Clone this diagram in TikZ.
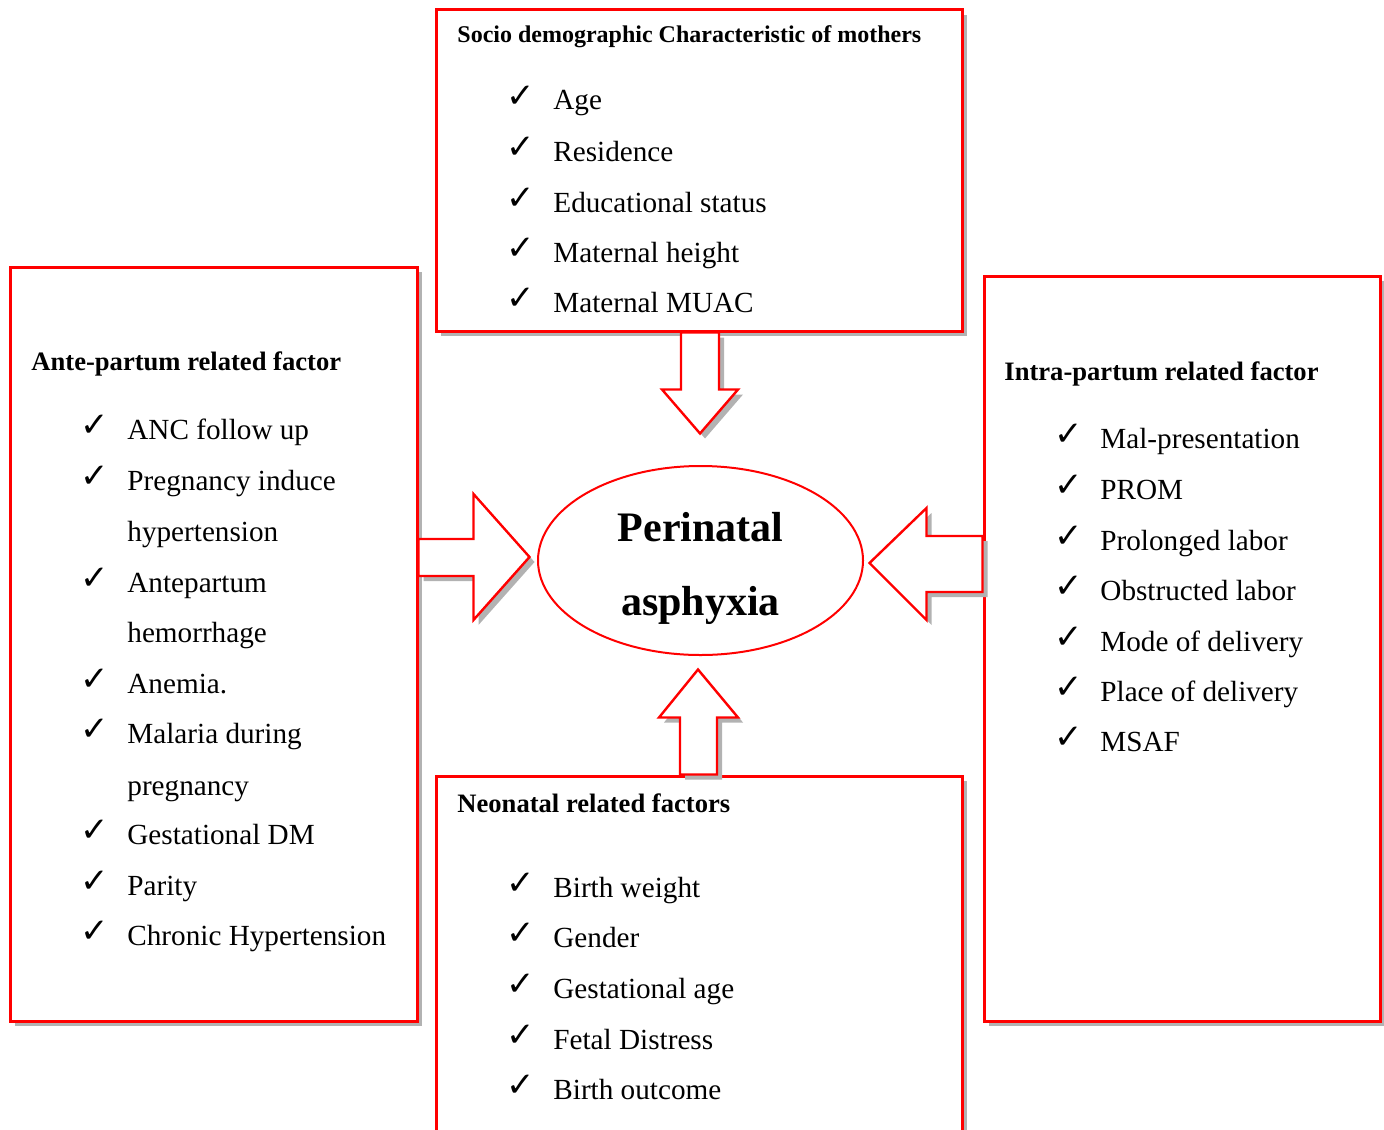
\documentclass[tikz,border=0pt]{standalone}
\usepackage{fontspec}
\setmainfont{Liberation Serif}
\newfontfamily\checkfont{DejaVu Sans}
\usetikzlibrary{shapes.geometric,shadows}
\definecolor{boxred}{rgb}{1, 0, 0}
\definecolor{shadowgray}{rgb}{0.70, 0.70, 0.70}
\tikzset{
  grayshadow/.style={drop shadow={shadow xshift=2.5pt, shadow yshift=-2.5pt, fill=shadowgray, opacity=1}},
  factorbox/.style={rectangle, draw=boxred, line width=1.5pt, fill=white, inner sep=0pt, grayshadow},
  blockarrow/.style={draw=boxred, line width=1.2pt, fill=white, line join=miter, grayshadow},
  headtext/.style={anchor=base west, inner sep=0pt, font=\fontsize{13.3}{16}\bfseries},
  itemtext/.style={anchor=base west, inner sep=0pt, font=\fontsize{14.6}{17}\selectfont},
  chk/.style={anchor=base west, inner sep=0pt, yshift=1.5pt, font=\checkfont\fontsize{17}{18}\selectfont}
}

\begin{document}
\begin{tikzpicture}[x=0.5pt, y=-0.5pt]
        \useasboundingbox (0, 0) rectangle (1384, 1129);
        \node[factorbox, minimum width=263pt, minimum height=160.5pt] (socio) at (699, 170.5) {};
        \node[factorbox, minimum width=203.5pt, minimum height=377pt] (ante) at (213.5, 644) {};
        \node[factorbox, minimum width=198pt, minimum height=372.5pt] (intra) at (1182, 648.5) {};
        \node[factorbox, minimum width=263pt, minimum height=192pt] (neo) at (699, 968) {};
        \node[ellipse, draw=boxred, line width=1pt, inner sep=0pt, minimum width=162.5pt, minimum height=94.5pt] (asph) at (700.5, 560.5) {};
        \node[align=center, inner sep=0pt, font=\fontsize{21}{37}\bfseries] (asphtext) at (700.5, 568.5) {Perinatal\\asphyxia};

        \draw[blockarrow] (socio.south) ++(-18, 0) -- ++(0, 57) -- ++(-19, 0) -- ++(38, 44) -- ++(38, -44) -- ++(-19, 0) -- ++(0, -57) -- cycle;
        \draw[blockarrow] (ante.east) ++(0, -105) -- ++(55, 0) -- ++(0, -45) -- ++(56, 63) -- ++(-56, 63) -- ++(0, -44) -- ++(-55, 0) -- cycle;
        \draw[blockarrow] (intra.west) ++(0, -112.5) -- ++(-56, 0) -- ++(0, -28) -- ++(-57, 55) -- ++(57, 57) -- ++(0, -28) -- ++(56, 0) -- cycle;
        \draw[blockarrow] (neo.north) ++(-19, 0) -- ++(0, -57) -- ++(-21, 0) -- ++(39, -48) -- ++(40, 48) -- ++(-21, 0) -- ++(0, 57) -- cycle;

        \node[headtext, font=\fontsize{12}{14}\bfseries] (sociohead) at (457, 43) {Socio demographic Characteristic of mothers};
        \node[chk] (sc1) at (506, 110) {✓};
        \node[itemtext] (s1) at (553, 110) {Age};
        \node[chk] (sc2) at (506, 161) {✓};
        \node[itemtext] (s2) at (553, 161) {Residence};
        \node[chk] (sc3) at (506, 212) {✓};
        \node[itemtext] (s3) at (553, 212) {Educational status};
        \node[chk] (sc4) at (506, 262) {✓};
        \node[itemtext] (s4) at (553, 262) {Maternal height};
        \node[chk] (sc5) at (506, 312) {✓};
        \node[itemtext] (s5) at (553, 312) {Maternal MUAC};

        \node[headtext] (antehead) at (31, 370) {Ante-partum related factor};
        \node[chk] (ac1) at (80, 439) {✓};
        \node[itemtext] (a1) at (127, 439) {ANC follow up};
        \node[chk] (ac2) at (80, 490) {✓};
        \node[itemtext] (a2) at (127, 490) {Pregnancy induce};
        \node[itemtext] (a2b) at (127, 541) {hypertension};
        \node[chk] (ac3) at (80, 592) {✓};
        \node[itemtext] (a3) at (127, 592) {Antepartum};
        \node[itemtext] (a3b) at (127, 642) {hemorrhage};
        \node[chk] (ac4) at (80, 693) {✓};
        \node[itemtext] (a4) at (127, 693) {Anemia.};
        \node[chk] (ac5) at (80, 743) {✓};
        \node[itemtext] (a5) at (127, 743) {Malaria during};
        \node[itemtext] (a5b) at (127, 795) {pregnancy};
        \node[chk] (ac6) at (80, 844) {✓};
        \node[itemtext] (a6) at (127, 844) {Gestational DM};
        \node[chk] (ac7) at (80, 895) {✓};
        \node[itemtext] (a7) at (127, 895) {Parity};
        \node[chk] (ac8) at (80, 945) {✓};
        \node[itemtext] (a8) at (127, 945) {Chronic Hypertension};

        \node[headtext] (intrahead) at (1004, 380) {Intra-partum related factor};
        \node[chk] (ic1) at (1054, 448) {✓};
        \node[itemtext] (i1) at (1100, 448) {Mal-presentation};
        \node[chk] (ic2) at (1054, 499) {✓};
        \node[itemtext] (i2) at (1100, 499) {PROM};
        \node[chk] (ic3) at (1054, 550) {✓};
        \node[itemtext] (i3) at (1100, 550) {Prolonged labor};
        \node[chk] (ic4) at (1054, 600) {✓};
        \node[itemtext] (i4) at (1100, 600) {Obstructed labor};
        \node[chk] (ic5) at (1054, 651) {✓};
        \node[itemtext] (i5) at (1100, 651) {Mode of delivery};
        \node[chk] (ic6) at (1054, 701) {✓};
        \node[itemtext] (i6) at (1100, 701) {Place of delivery};
        \node[chk] (ic7) at (1054, 751) {✓};
        \node[itemtext] (i7) at (1100, 751) {MSAF};

        \node[headtext] (neohead) at (457, 812) {Neonatal related factors};
        \node[chk] (nc1) at (506, 897) {✓};
        \node[itemtext] (n1) at (553, 897) {Birth weight};
        \node[chk] (nc2) at (506, 947) {✓};
        \node[itemtext] (n2) at (553, 947) {Gender};
        \node[chk] (nc3) at (506, 998) {✓};
        \node[itemtext] (n3) at (553, 998) {Gestational age};
        \node[chk] (nc4) at (506, 1049) {✓};
        \node[itemtext] (n4) at (553, 1049) {Fetal Distress};
        \node[chk] (nc5) at (506, 1099) {✓};
        \node[itemtext] (n5) at (553, 1099) {Birth outcome};
\end{tikzpicture}
\end{document}
